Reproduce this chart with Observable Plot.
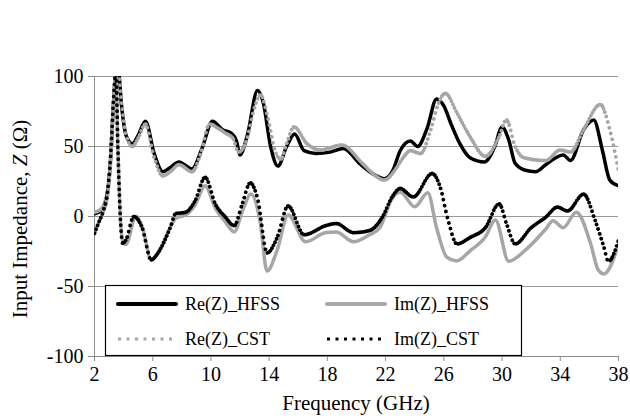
<!DOCTYPE html>
<html><head><meta charset="utf-8">
<script src="https://cdn.jsdelivr.net/npm/d3@7"></script>
<script src="https://cdn.jsdelivr.net/npm/@observablehq/plot@0.6"></script>
<style>body{margin:0;background:#fff} svg{display:block}</style>
</head><body><div id="chart"></div>
<script>
const xTicks = [2, 6, 10, 14, 18, 22, 26, 30, 34, 38];
const yTicks = [-100, -50, 0, 50, 100];
const seriesNames = ["Re(Z)_HFSS", "Im(Z)_HFSS", "Re(Z)_CST", "Im(Z)_CST"];

const reHfssF = [2,2.5,2.9,3.1,3.3,3.5,3.65,3.85,4.2,4.6,5.0,5.5,6.1,6.7,7.2,7.8,8.7,9.4,10.1,10.8,11.45,11.75,12.0,12.5,13.2,13.6,14.1,14.6,15.2,15.75,16.4,17.2,18.2,19.1,20.2,21.2,21.9,22.5,23.0,23.7,24.2,24.85,25.5,26.0,26.5,27.1,27.8,28.8,29.5,30.0,30.45,30.9,31.6,32.3,33.0,34.2,34.7,35.6,36.3,36.9,37.4,38];
const reHfssV = [2,5,18,40,80,106,104,80,57,52,58,68,45,32,35,39,34,49,68,62,59,54,44,58,90,81,50,36,50,59,47,45,46,48.5,38,30,27,33,47,54,50,63,84,79,66,52,42,39,50,64,55,38,33,32,37,44,40,62,69,47,26,22];

const imHfssF = [2,2.3,2.6,2.9,3.1,3.3,3.47,3.6,3.75,3.93,4.15,4.85,5.3,5.9,6.4,7.2,7.6,8.25,8.9,9.6,10.3,11.0,11.6,12.2,12.75,13.4,13.85,14.55,15.3,16.5,17.9,18.6,19.8,20.9,21.6,22.4,23.0,24.0,24.9,25.5,26.2,26.9,27.8,28.85,29.55,30.45,31.6,33.0,33.5,34.2,35.1,36.1,36.6,37.0,38];
const imHfssV = [-12,-4,3,15,38,80,102,50,5,-17,-20,0,-8,-31,-25,-8,-1,1,8,22,6,-4,-11,5,16,-5,-39,-24,1,-18,-11.5,-11,-18,-13,-8,12,17.5,7,17,-8,-29,-31.7,-24.5,-14.6,-2.5,-32,-24,-9,-3,-8,3,-20,-38,-41,-20];

const reCstF = [2,2.5,2.9,3.1,3.3,3.5,3.65,3.85,4.2,4.6,5.0,5.5,6.1,6.7,7.2,7.8,8.7,9.3,9.9,10.5,11.0,11.5,11.9,12.4,13.0,13.4,13.9,14.4,14.8,15.2,15.7,16.6,17.5,19.0,20.4,21.2,21.9,22.7,23.2,23.7,24.4,25.1,25.6,26.1,26.9,27.8,28.85,29.8,30.3,30.9,31.5,33.0,34.0,34.7,35.6,36.75,37.4,38];
const reCstV = [3,6,20,42,82,104,103,82,57,50,56,66,42,29,32,37,32,45,66,63,59.5,56,46,53,78,87,71,47,41,52,64,52,47.5,51,38,30,26,34,42,47,45,62,80,88,74,57,43,57,69,50,42,40,47.5,46,62,80,62,33];

const imCstF = [2,2.3,2.6,2.9,3.1,3.3,3.47,3.6,3.75,3.93,4.15,4.7,5.27,5.9,6.3,7.2,7.57,8.25,8.9,9.6,10.3,11.0,11.6,12.15,12.7,13.2,13.86,14.55,15.3,16.4,17.9,18.6,19.8,20.9,21.8,22.45,23.0,23.9,25.2,25.75,26.3,26.9,27.8,28.85,29.8,30.3,30.9,32.0,33.0,33.8,34.5,35.6,36.4,37.0,37.3,38];
const imCstV = [-12,-4,4,18,42,82,104,52,5,-19,-17,0,-8,-31,-27,-8,2,3,11,28,9,-0.5,-6.5,9,24,13,-26,-15,7.5,-13,-6.5,-5,-11.5,-10,0,14,20,14,30.7,21,-3,-19.6,-15,-8,9,-5,-19.6,-8,-0.5,6.7,4,16,-3,-22,-32,-17];

const toRows = (F, V) => F.map((f, i) => ({f, v: V[i]}));
const reHfss = toRows(reHfssF, reHfssV);
const imHfss = toRows(imHfssF, imHfssV);
const reCst = toRows(reCstF, reCstV);
const imCst = toRows(imCstF, imCstV);

const GRAY = "#a6a6a6";
const FONT = "'Liberation Serif', 'Times New Roman', serif";
const DOT = "0.1,6";

const svg = Plot.plot({
  width: 630, height: 418,
  marginLeft: 94, marginRight: 12, marginTop: 76, marginBottom: 62,
  style: {fontFamily: FONT, fontSize: "20px", background: "#fff", color: "#000"},
  x: {domain: [2, 38], ticks: xTicks},
  y: {domain: [-100, 100], ticks: yTicks},
  marks: [
    Plot.gridY(yTicks.filter(d => d > -100), {stroke: "#9a9a9a", strokeOpacity: 1, strokeWidth: 1}),
    Plot.ruleX([2], {stroke: "#8c8c8c"}),
    Plot.ruleY([-100], {stroke: "#8c8c8c"}),
    Plot.axisY(yTicks, {tickSize: 6, tickPadding: 5, tickFormat: d => String(d), label: null, stroke: "#8c8c8c", fontSize: 20}),
    Plot.axisX(xTicks, {tickSize: 5, tickPadding: 5, tickFormat: d => String(d), label: null, stroke: "#8c8c8c", fontSize: 20}),
    Plot.line(reHfss, {x: "f", y: "v", stroke: "#000", strokeWidth: 3.5, curve: "monotone-x", clip: true}),
    Plot.line(imHfss, {x: "f", y: "v", stroke: GRAY, strokeWidth: 3.5, curve: "monotone-x", clip: true}),
    Plot.line(reCst, {x: "f", y: "v", stroke: GRAY, strokeWidth: 3.8, strokeDasharray: DOT, strokeLinecap: "round", curve: "monotone-x", clip: true}),
    Plot.line(imCst, {x: "f", y: "v", stroke: "#000", strokeWidth: 3.8, strokeDasharray: DOT, strokeLinecap: "round", curve: "monotone-x", clip: true})
  ]
});
document.getElementById("chart").appendChild(svg);

const s = d3.select(svg);

// Spreadsheet-style dotted pattern: a dot at every small x-step, else every 6px along the path
const lineGroups = s.selectAll('g[aria-label="line"]').nodes();
[2, 3].forEach(idx => {
  const g = lineGroups[idx];
  if (!g) return;
  const path = g.querySelector("path");
  if (!path || !path.getTotalLength) return;
  const L = path.getTotalLength();
  const pos = [];
  let lastX = -Infinity, lastL = -Infinity;
  for (let l = 0; l <= L; l += 0.25) {
    const p = path.getPointAtLength(l);
    if (p.x - lastX >= 1.5 || l - lastL >= 6) { pos.push(l); lastX = p.x; lastL = l; }
  }
  const arr = [];
  let prev = 0;
  pos.forEach((l, i) => {
    if (i === 0) { arr.push(0.01); prev = l + 0.01; return; }
    arr.push(Math.max(0.01, l - prev), 0.01);
    prev = l + 0.01;
  });
  arr.push(L + 10);
  path.setAttribute("stroke-dasharray", arr.map(d => d.toFixed(2)).join(","));
});

// Axis titles
const yt = s.append("text")
  .attr("transform", "translate(27,219) rotate(-90)")
  .attr("text-anchor", "middle")
  .style("font-family", FONT).style("font-size", "21px").attr("fill", "#000");
yt.append("tspan").text("Input Impedance, ");
yt.append("tspan").style("font-style", "italic").text("Z");
yt.append("tspan").text(" (Ω)");
s.append("text")
  .attr("x", 356).attr("y", 410).attr("text-anchor", "middle")
  .style("font-family", FONT).style("font-size", "21px").attr("fill", "#000")
  .text("Frequency (GHz)");

// Legend
const lg = s.append("g");
lg.append("rect").attr("x", 105.5).attr("y", 285.5).attr("width", 416).attr("height", 70)
  .attr("fill", "#fff").attr("stroke", "#000").attr("stroke-width", 1.2);
const items = [
  {name: seriesNames[0], x: 118, y: 304, color: "#000", dash: null},
  {name: seriesNames[1], x: 327, y: 304, color: GRAY, dash: null},
  {name: seriesNames[2], x: 118, y: 339, color: GRAY, dash: "3,5.5"},
  {name: seriesNames[3], x: 327, y: 339, color: "#000", dash: "3,5.5"}
];
for (const it of items) {
  lg.append("line").attr("x1", it.x).attr("x2", it.x + 58).attr("y1", it.y).attr("y2", it.y)
    .attr("stroke", it.color).attr("stroke-width", it.dash ? 3 : 4)
    .attr("stroke-dasharray", it.dash).attr("stroke-linecap", it.dash ? "butt" : "round");
  lg.append("text").attr("x", it.x + 67).attr("y", it.y + 6)
    .attr("text-anchor", "start")
    .style("font-family", FONT).style("font-size", "18px").attr("fill", "#000").text(it.name);
}
</script>
</body></html>
